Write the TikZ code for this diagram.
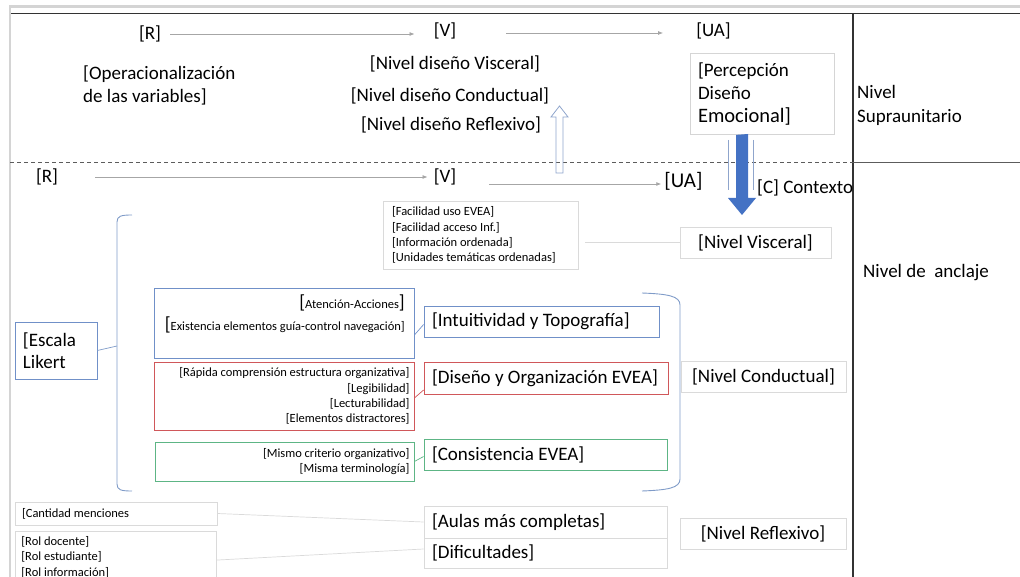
\documentclass[tikz,border=0pt]{standalone}
\usepackage{fontspec}
\setmainfont{Carlito}
\usetikzlibrary{arrows.meta,calc}

\definecolor{frameDark}{HTML}{333333}
\definecolor{frameLight}{HTML}{D4D4D4}
\definecolor{arrowGray}{HTML}{A6A6A6}
\definecolor{boxGray}{HTML}{DADADA}
\definecolor{braceBlue}{HTML}{7F9BC8}
\definecolor{lineBlue}{HTML}{7090C8}
\definecolor{lineRed}{HTML}{D0575A}
\definecolor{lineGreen}{HTML}{5DB585}
\definecolor{solidBlue}{HTML}{4472C4}
\definecolor{hollowBlue}{HTML}{8FA5CC}

\newcommand{\bigbr}[1]{{\fontsize{19}{19}\selectfont #1}}

\begin{document}
\begin{tikzpicture}[x=1pt,y=-1pt,
  lbl/.style={inner sep=0pt, font=\fontsize{19}{23}\selectfont},
  small/.style={font=\fontsize{12.5}{15.3}\selectfont},
  box/.style={draw=#1, line width=0.8pt, inner sep=0pt,
              font=\fontsize{19}{22}\selectfont},
  box/.default=boxGray,
  garrow/.style={draw=arrowGray, line width=0.8pt,
                 -{Latex[length=5pt,width=4pt]}},
  link/.style={draw=#1, line width=0.7pt},
  link/.default=boxGray]

\useasboundingbox (0,0) rectangle (1020,577);
\clip (0,0) rectangle (1020,577);

% page frame
\draw[frameLight, line width=2.5pt] (9,6.5) -- (1020,6.5);
\draw[frameLight, line width=2pt] (9.5,6) -- (9.5,577);
\draw[frameDark, line width=1.4pt] (11,13.5) -- (1020,13.5);
\draw[frameDark, line width=1.2pt] (853,13) -- (853,577);
\draw[frameDark!80, line width=0.9pt, dash pattern=on 4pt off 3pt] (10,162) -- (853,162);
\draw[frameDark!80, line width=0.9pt] (853,162) -- (1020,162);

% ---------------- upper level ----------------
\node[lbl] (R1) at (150,34) {[R]};
\node[lbl] (V1) at (445,31) {[V]};
\node[lbl] (UA1) at (713.5,31) {[UA]};
\draw[garrow, shorten <=9pt, shorten >=19pt] (R1.east) -- (R1.east -| V1.west);
\draw[garrow, shorten <=50pt, shorten >=33pt] (V1.east |- 0,33) -- (UA1.west |- 0,33);

\node[lbl, anchor=west, align=left] (oper) at (83,85.5)
  {[Operacionalización\\de las variables]};

\node[lbl] (dvisc) at (455,64) {[Nivel diseño Visceral]};
\node[lbl] (dcond) at (450,96) {[Nivel diseño Conductual]};
\node[lbl] (drefl) at (451,125) {[Nivel diseño Reflexivo]};

% hollow arrow rising from the anchoring level
\draw[hollowBlue, line width=0.8pt]
  (556,173) -- (556,117) -- (551,117) -- (559.5,106) -- (568,117)
  -- (563,117) -- (563,173) -- cycle;

\node[box=boxGray!85!black!60, minimum width=144pt, minimum height=81pt,
      text width=128pt, align=flush left, font=\fontsize{19}{23}\selectfont] (percep) at (762,94)
  {[Percepción\\Diseño\\{\fontsize{20.5}{23}\selectfont Emocional]}};

\node[lbl, anchor=west, align=left, font=\fontsize{19}{24}\selectfont] (nsup) at (857,105)
  {Nivel\\Supraunitario};

% context arrow
\fill[solidBlue] (percep.south -| 736,0) -- (748,134) -- (748,198) -- (756,198)
  -- (742,215) -- (728,198) -- (736,198) -- cycle;
\draw[hollowBlue, line width=0.8pt] (728,140) -- (728,190);
\draw[hollowBlue, line width=0.8pt] (753,140) -- (753,190);
\node[lbl, anchor=west] (ctx) at (757,188) {[C] Contexto};

% ---------------- lower level ----------------
\node[lbl] (R2) at (47,177) {[R]};
\node[lbl] (V2) at (445,177) {[V]};
\node[lbl, font=\fontsize{21}{23}\selectfont] (UA2) at (683.5,181) {[UA]};
\draw[garrow, shorten <=37pt, shorten >=6pt] (R2.east) -- (R2.east -| V2.west);
\draw[garrow, shorten <=33pt, shorten >=3pt] (V2.east |- 0,184) -- (UA2.west |- 0,184);

\node[lbl, anchor=west] (ancla) at (863,273) {Nivel de\ \ anclaje};

% visceral level
\node[box, small, minimum width=195pt, minimum height=68pt, text width=177pt,
      align=flush left] (facil) at (480.5,235)
  {[Facilidad uso EVEA]\\{[}Facilidad acceso Inf.]\\{[}Información ordenada]\\{[}Unidades temáticas ordenadas]};
\node[box, minimum width=151pt, minimum height=31pt] (nvisc) at (755.5,242.5) {[Nivel Visceral]};
\draw[link, shorten <=7pt] (facil.east |- nvisc.west) -- (nvisc.west);

% Likert scale and its brace
\node[box=lineBlue, minimum width=82pt, minimum height=57pt, text width=66pt,
      align=flush left, font=\fontsize{19}{22}\selectfont] (likert) at (56,350.5)
  {[Escala\\Likert};
\coordinate (lbr) at (117,346);
\draw[braceBlue, line width=0.9pt]
  (132,215) .. controls (121,215) and (117,216) .. (117,222) -- (117,484)
  .. controls (117,490) and (121,491) .. (132,491);
\draw[link=braceBlue] (likert.east) -- (lbr);

% conductual level
\node[box=lineBlue, minimum width=260pt, minimum height=70pt] (bbox) at (284,323) {};
\node[small, anchor=north east, align=flush right, inner sep=0pt] (btext) at (405,295)
  {\bigbr{[}Atención-Acciones\bigbr{]}\\[4pt]\bigbr{[}Existencia elementos guía-control navegación]};
\node[box=lineBlue, minimum width=235pt, minimum height=31pt, text width=219pt,
      align=flush left] (intu) at (541.5,321.5) {[Intuitividad y Topografía]};
\draw[link=lineBlue] ([yshift=-12pt]bbox.east) -- ([yshift=-3pt]intu.west);

\node[box=lineRed, small, minimum width=260pt, minimum height=68pt, text width=251pt,
      align=flush right] (rbox) at (284,396)
  {[Rápida comprensión estructura organizativa]\\{[}Legibilidad]\\{[}Lecturabilidad]\\{[}Elementos distractores]};
\node[box=lineRed, minimum width=244pt, minimum height=32pt, text width=228pt,
      align=flush left] (diseno) at (546,378) {[Diseño y Organización EVEA]};
\draw[link=lineRed] ([yshift=-2pt]rbox.east) -- ([yshift=-12pt]diseno.west);

\node[box=lineGreen, small, minimum width=259pt, minimum height=39pt, text width=250pt,
      align=flush right] (gbox) at (284.5,461.5)
  {[Mismo criterio organizativo]\\{[}Misma terminología]};
\node[box=lineGreen, minimum width=243pt, minimum height=31pt, text width=227pt,
      align=flush left] (consis) at (545.5,454.5) {[Consistencia EVEA]};
\draw[link=lineGreen] (gbox.east) -- ([yshift=-2pt]consis.west);

\draw[braceBlue, line width=0.9pt]
  (642,293) .. controls (668,294) and (680,296) .. (680,305) -- (680,479)
  .. controls (680,488) and (668,490) .. (642,491);
\node[box, minimum width=165pt, minimum height=31pt] (ncond) at (763.5,376.5) {[Nivel Conductual]};

% reflexive level
\node[box, small, minimum width=202pt, minimum height=23pt, text width=188pt,
      align=flush left] (cant) at (116,513.5) {[Cantidad menciones};
\node[box, small, anchor=north west, inner xsep=6pt, inner ysep=5pt, text width=189pt,
      align=flush left] (rol) at (15,531)
  {[Rol docente]\\{[}Rol estudiante]\\{[}Rol información]\\ };
\node[box, minimum width=243pt, minimum height=32pt, text width=227pt,
      align=flush left] (aulas) at (545.5,522) {[Aulas más completas]};
\node[box, minimum width=243pt, minimum height=30pt, text width=227pt,
      align=flush left] (dific) at (545.5,553) {[Dificultades]};
\draw[link] (cant.east) -- (aulas.west);
\draw[link] ([yshift=-3pt]rol.east) -- ([yshift=4pt]dific.west);
\node[box, minimum width=166pt, minimum height=31pt] (nrefl) at (763,533.5) {[Nivel Reflexivo]};

\end{tikzpicture}
\end{document}
